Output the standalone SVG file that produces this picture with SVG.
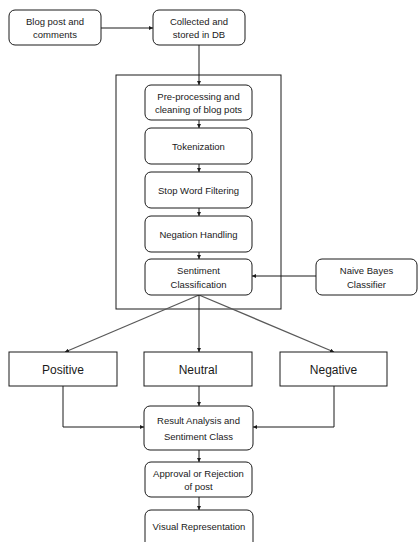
<svg xmlns="http://www.w3.org/2000/svg" width="419" height="542" viewBox="0 0 419 542">
<defs>
<style>
.n rect{fill:#fff;stroke:#1a1a1a;stroke-width:1}
.n text{font-family:"Liberation Sans",Arial,sans-serif;font-size:9.5px;fill:#1a1a1a;text-anchor:middle}
.big text{font-size:12px}
.c line,.c polyline{fill:none;stroke:#1a1a1a;stroke-width:1}
.c .g{stroke:#595959;stroke-width:1.3}
</style>
<marker id="a" viewBox="0 0 6 6" refX="6" refY="3" markerWidth="4" markerHeight="4" orient="auto" markerUnits="userSpaceOnUse"><path d="M0,0L6,3L0,6z" fill="#1a1a1a"/></marker>
</defs>
<rect x="116" y="75" width="165" height="234" fill="none" stroke="#1a1a1a" stroke-width="1"/>
<g class="c">
<line x1="101" y1="28" x2="153" y2="28" marker-end="url(#a)"/>
<line x1="199" y1="45" x2="199" y2="85" marker-end="url(#a)"/>
<line x1="199" y1="120" x2="199" y2="128" marker-end="url(#a)"/>
<line x1="199" y1="164" x2="199" y2="172" marker-end="url(#a)"/>
<line x1="199" y1="208" x2="199" y2="216" marker-end="url(#a)"/>
<line x1="199" y1="252" x2="199" y2="259" marker-end="url(#a)"/>
<line x1="316" y1="276" x2="252" y2="276" marker-end="url(#a)"/>
<line class="g" x1="199" y1="295" x2="65" y2="352" marker-end="url(#a)"/>
<line x1="199" y1="295" x2="199" y2="352" marker-end="url(#a)"/>
<line class="g" x1="199" y1="295" x2="334" y2="352" marker-end="url(#a)"/>
<line x1="199" y1="386" x2="199" y2="406" marker-end="url(#a)"/>
<polyline points="63,386 63,427 144,427" marker-end="url(#a)"/>
<polyline points="334,386 334,427 253,427" marker-end="url(#a)"/>
<line x1="199" y1="450" x2="199" y2="462" marker-end="url(#a)"/>
<line x1="199" y1="497" x2="199" y2="510" marker-end="url(#a)"/>
</g>
<g id="blog" class="n"><rect x="9" y="10" width="92" height="35" rx="6"/><text x="55" y="24.5">Blog post and</text><text x="55" y="38">comments</text></g>
<g id="collected" class="n"><rect x="153" y="10" width="92" height="35" rx="6"/><text x="199" y="24.5">Collected and</text><text x="199" y="38">stored in DB</text></g>
<g id="preproc" class="n"><rect x="145" y="85" width="107" height="35" rx="6"/><text x="198.5" y="99.5">Pre-processing and</text><text x="198.5" y="113">cleaning of blog pots</text></g>
<g id="token" class="n"><rect x="145" y="128" width="107" height="36" rx="6"/><text x="198.5" y="149.5">Tokenization</text></g>
<g id="stop" class="n"><rect x="145" y="172" width="107" height="36" rx="6"/><text x="198.5" y="193.5">Stop Word Filtering</text></g>
<g id="negation" class="n"><rect x="145" y="216" width="107" height="36" rx="6"/><text x="198.5" y="237.5">Negation Handling</text></g>
<g id="sentiment" class="n"><rect x="145" y="259" width="107" height="36" rx="6"/><text x="198.5" y="273.5">Sentiment</text><text x="198.5" y="288">Classification</text></g>
<g id="bayes" class="n"><rect x="316" y="259" width="101" height="36" rx="6"/><text x="366.5" y="273.5">Naive Bayes</text><text x="366.5" y="288">Classifier</text></g>
<g id="positive" class="n big"><rect x="9" y="352" width="108" height="34"/><text x="63" y="373.5">Positive</text></g>
<g id="neutral" class="n big"><rect x="144" y="352" width="108" height="34"/><text x="198" y="373.5">Neutral</text></g>
<g id="negative" class="n big"><rect x="280" y="352" width="107" height="34"/><text x="333.5" y="373.5">Negative</text></g>
<g id="result" class="n"><rect x="144" y="406" width="109" height="44" rx="6"/><text x="198.5" y="424">Result Analysis and</text><text x="198.5" y="440">Sentiment Class</text></g>
<g id="approval" class="n"><rect x="145" y="462" width="107" height="35" rx="6"/><text x="198.5" y="476.5">Approval or Rejection</text><text x="198.5" y="490">of post</text></g>
<g id="visual" class="n"><rect x="145" y="510" width="108" height="40" rx="6"/><text x="199" y="530">Visual Representation</text></g>
</svg>
